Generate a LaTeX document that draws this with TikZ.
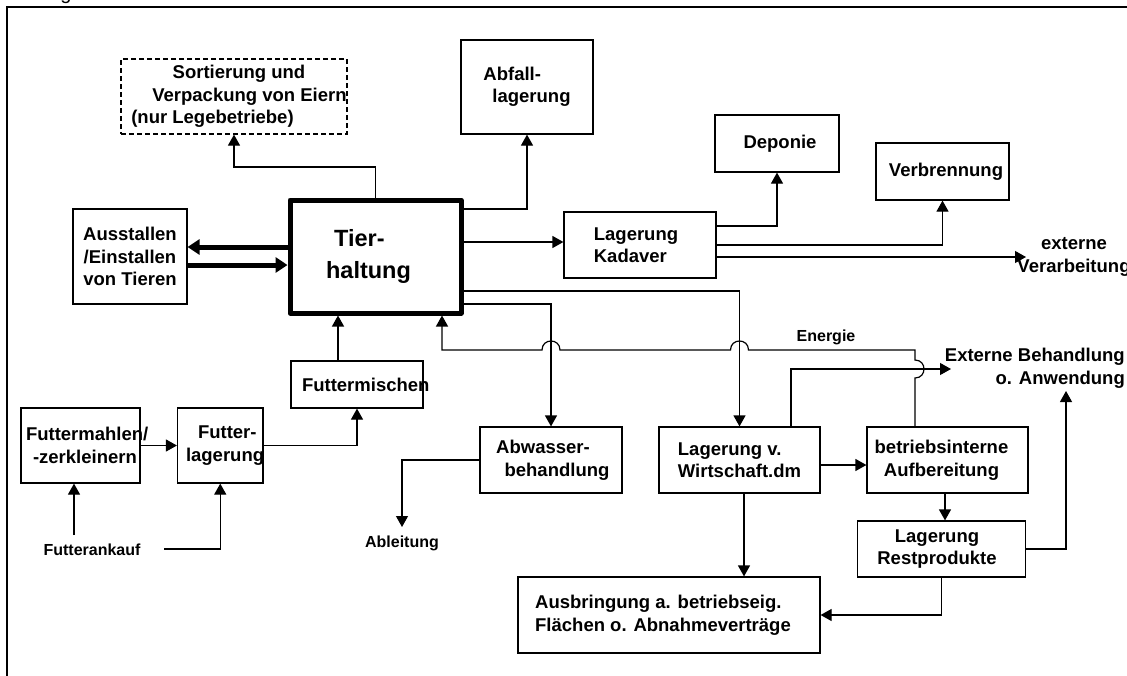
\documentclass[tikz,border=0pt]{standalone}
\usepackage{fontspec}
\setmainfont{Liberation Sans}
\usetikzlibrary{arrows.meta}

\newcommand{\boxfont}{\fontsize{18.5}{22.5}\selectfont\bfseries}
\newcommand{\bigfont}{\fontsize{23.5}{32}\selectfont\bfseries}
\newcommand{\smallfont}{\fontsize{16}{19}\selectfont\bfseries}

\begin{document}
\begin{tikzpicture}[x=1pt, y=-1pt,
    box/.style={draw, line width=1.2pt, inner sep=0pt, align=center, font=\boxfont},
    dbox/.style={box, dash pattern=on 5pt off 3pt},
    mainbox/.style={box, line width=5pt, line join=round, font=\bigfont},
    txt/.style={inner sep=0pt, font=\boxfont},
    small/.style={inner sep=0pt, font=\smallfont},
    arr/.style={line width=1.2pt, -{Triangle[length=11pt, width=12pt]}},
    fat/.style={line width=5pt, -{Triangle[length=12pt, width=15pt]}}]
    \useasboundingbox (0,0) rectangle (1127,675);

    \draw[line width=2pt] (7,680) -- (7,6.5) -- (1135,6.5);
    \node[inner sep=0pt, anchor=base, font=\fontsize{20}{24}\selectfont] (capg) at (66,-0.5) {g};

    \node[dbox, minimum width=226pt, minimum height=75pt] (sort) at (234,96.5) {\hspace*{10pt}Sortierung und\\\hspace*{31pt}Verpackung von Eiern\\(nur Legebetriebe)\hspace*{43pt}};
    \node[box, align=left, minimum width=132pt, minimum height=94pt] (abfall) at (527,87) {Abfall-\\\hspace*{9pt}lagerung};
    \node[mainbox, align=left, minimum width=171pt, minimum height=113pt] (tier) at (375.5,256.5) {\hspace*{8pt}Tier-\\haltung\hspace*{14pt}};
    \node[box, minimum width=114pt, minimum height=95pt] (aus) at (130,256.5) {Ausstallen\\/Einstallen\\von Tieren};
    \node[box, align=left, minimum width=152pt, minimum height=66pt] (kad) at (640,245) {Lagerung\hspace*{8pt}\\Kadaver};
    \node[box, minimum width=124pt, minimum height=57pt] (dep) at (777,143.5) {\hspace*{6pt}Deponie};
    \node[box, minimum width=133pt, minimum height=57pt] (verb) at (942.5,171.5) {\hspace*{7pt}Verbrennung};

    \node[box, align=left, text width=132pt, minimum height=47pt] (mix) at (357,384.5) {\hspace*{11pt}\mbox{Futtermischen}};
    \node[box, align=left, text width=119pt, minimum height=75pt] (mahl) at (80.5,445.5) {\hspace*{5pt}\mbox{Futtermahlen/}\\\hspace*{12pt}\mbox{-zerkleinern}};
    \node[box, align=left, text width=85.5pt, minimum height=75pt] (lag) at (220.25,445.5) {\hspace*{20.5pt}\mbox{Futter-}\\\hspace*{8.5pt}\mbox{lagerung}};
    \node[box, minimum width=142pt, minimum height=66pt] (abw) at (551,460) {Abwasser-\hspace*{16pt}\\\hspace*{12pt}behandlung};
    \node[box, align=left, minimum width=161pt, minimum height=66pt] (lwd) at (739.5,460) {Lagerung v.\\Wirtschaft.dm};
    \node[box, minimum width=161pt, minimum height=66pt] (bai) at (947.5,460) {betriebsinterne\hspace*{12pt}\\Aufbereitung\hspace*{12pt}};
    \node[box, minimum width=168pt, minimum height=56pt] (rest) at (941.5,549) {Lagerung\hspace*{9pt}\\Restprodukte\hspace*{9pt}};
    \node[box, align=left, minimum width=302pt, minimum height=76pt] (ausb) at (669,615) {Ausbringung a. betriebseig.\\Flächen o. Abnahmeverträge\hspace*{12pt}};

    \node[txt, align=center] (exv) at (1074,257) {externe\\Verarbeitung};
    \node[txt, align=right, anchor=east] (exb) at (1125,368.5) {Externe Behandlung\\o. Anwendung};
    \node[small] (energie) at (826,337) {Energie};
    \node[small] (abl) at (402,543) {Ableitung};
    \node[small] (ank) at (92,550) {Futterankauf};

    \coordinate (ankA) at (74,535);
    \coordinate (ankB) at (164,549);
    \coordinate (ablin) at (402,527);
    \coordinate (exvin) at (1026,257);
    \coordinate (exbin) at (951,369);
    \coordinate (exbup) at (1066,391);

    % Ein- und Ausstallen
    \draw[fat] (tier.west |- 0,247) -- (aus.east |- 0,247);
    \draw[fat] (aus.east |- 0,265) -- (tier.west |- 0,265);

    % aus der Tierhaltung
    \draw[arr] (tier.north) |- (sort.south |- 0,167) -- (sort.south);
    \draw[arr] (tier.east |- 0,209) -| (abfall.south);
    \draw[arr] (tier.east |- 0,242) -- (kad.west |- 0,242);
    \draw[arr] (tier.east |- 0,291) -| (lwd.north);
    \draw[arr] (tier.east |- 0,304) -| (abw.north);

    % Kadaver
    \draw[arr] (kad.east |- 0,226) -| (dep.south);
    \draw[arr] (kad.east |- 0,245) -| (verb.south);
    \draw[arr] (kad.east |- 0,257) -- (exvin);

    % Energie zurueck, mit Bruecken
    \draw[arr] (bai.north -| 915,0) -- (915,378) .. controls (927,378) and (927,360) .. (915,360)
        -- (915,350) -- (748.5,350) .. controls (748.5,338) and (730.5,338) .. (730.5,350)
        -- (560,350) .. controls (560,338) and (542,338) .. (542,350)
        -- (442,350) -- (tier.south -| 442,0);

    % Futter
    \draw[arr] (ankA) -- (mahl.south -| ankA);
    \draw[arr] (ankB) -| (lag.south);
    \draw[arr] (mahl.east) -- (lag.west);
    \draw[arr] (lag.east) -| (mix.south);
    \draw[arr] (mix.north -| 338,0) -- (tier.south -| 338,0);

    % Abwasser
    \draw[arr] (abw.west) -| (ablin);

    % Wirtschaftsduenger
    \draw[arr] (lwd.north -| 791,0) |- (exbin);
    \draw[arr] (lwd.east |- 0,465) -- (bai.west |- 0,465);
    \draw[arr] (lwd.south -| 744,0) -- (ausb.north -| 744,0);
    \draw[arr] (bai.south -| 945,0) -- (rest.north -| 945,0);
    \draw[arr] (rest.east) -| (exbup);
    \draw[arr] (rest.south) |- (ausb.east);
\end{tikzpicture}
\end{document}
